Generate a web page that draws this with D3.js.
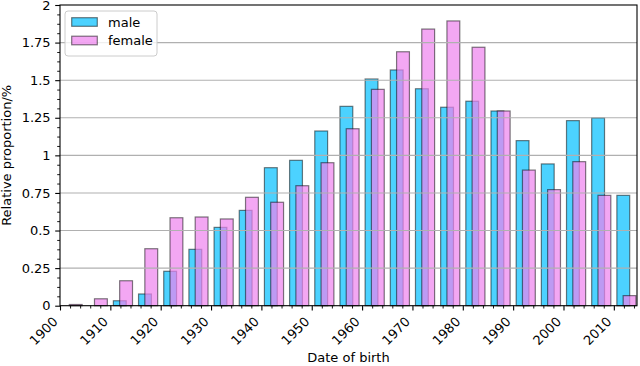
<!DOCTYPE html>
<html>
<head>
<meta charset="utf-8">
<script src="https://cdn.jsdelivr.net/npm/d3@7"></script>
<style>
  html, body { margin: 0; padding: 0; background: #fff; }
  svg { display: block; font-family: "DejaVu Sans", sans-serif; }
</style>
</head>
<body>
<svg id="chart" width="640" height="366"></svg>
<script>
// ---- data ----
const binStarts = [1900,1905,1910,1915,1920,1925,1930,1935,1940,1945,1950,1955,1960,1965,1970,1975,1980,1985,1990,1995,2000,2005,2010];
const maleValues = [0, 0, 0.033, 0.078, 0.229, 0.375, 0.521, 0.634, 0.918, 0.967, 1.162, 1.326, 1.508, 1.568, 1.443, 1.320, 1.360, 1.295, 1.098, 0.943, 1.231, 1.249, 0.734];
const femaleValues = [0.008, 0.046, 0.166, 0.379, 0.585, 0.590, 0.577, 0.721, 0.688, 0.798, 0.951, 1.177, 1.439, 1.689, 1.840, 1.894, 1.719, 1.295, 0.902, 0.772, 0.958, 0.734, 0.067];
const seriesNames = ["male", "female"];
const xTickValues = [1900,1910,1920,1930,1940,1950,1960,1970,1980,1990,2000,2010];
const yTickValues = [0,0.25,0.5,0.75,1,1.25,1.5,1.75,2];
const yTickLabels = ["0","0.25","0.5","0.75","1","1.25","1.5","1.75","2"];

(function () {
const mL = 60, mR = 637, mT = 5, mB = 305.7;
const svg = d3.select("#chart");
const x = d3.scaleLinear().domain([1900, 2014.6]).range([mL, mR]);
const y = d3.scaleLinear().domain([0, 2]).range([mB, mT]);

const colors = { male: "#00bfff", female: "#ee82ee" };
const offsets = { male: 0.6, female: 1.85 };
const barW = 2.55;

const series = [
  { name: seriesNames[0], values: maleValues },
  { name: seriesNames[1], values: femaleValues }
];

// bars
series.forEach(s => {
  svg.append("g").selectAll("rect")
    .data(binStarts.map((b, i) => ({ b, v: s.values[i] })))
    .join("rect")
    .attr("x", d => x(d.b + offsets[s.name]))
    .attr("width", d => x(d.b + offsets[s.name] + barW) - x(d.b + offsets[s.name]))
    .attr("y", d => y(d.v))
    .attr("height", d => y(0) - y(d.v))
    .attr("fill", colors[s.name])
    .attr("fill-opacity", 0.7)
    .attr("stroke", "#000")
    .attr("stroke-opacity", 0.5)
    .attr("stroke-width", 1.2);
});

// grid (above bars, as in the reference)
svg.append("g").selectAll("line")
  .data(yTickValues.filter(v => v > 0 && v < 2))
  .join("line")
  .attr("x1", mL).attr("x2", mR)
  .attr("y1", d => y(d)).attr("y2", d => y(d))
  .attr("stroke", "#b0b0b0").attr("stroke-width", 1.1);

// frame
svg.append("rect")
  .attr("x", mL).attr("y", mT)
  .attr("width", mR - mL).attr("height", mB - mT)
  .attr("fill", "none").attr("stroke", "#000").attr("stroke-width", 1.1);

// y axis
const yAxis = d3.axisLeft(y).tickValues(yTickValues)
  .tickFormat((d, i) => yTickLabels[i]).tickSize(4.8).tickPadding(4.6);
const gy = svg.append("g").attr("transform", `translate(${mL},0)`).call(yAxis);
gy.select(".domain").remove();
gy.selectAll("text").attr("font-size", 13).attr("font-family", "DejaVu Sans").attr("fill", "#000");
gy.selectAll("line").attr("stroke", "#000").attr("stroke-width", 1.1);
const yMinor = d3.range(0, 2.0001, 0.0625).filter(v => Math.abs(v / 0.25 - Math.round(v / 0.25)) > 1e-6);
svg.append("g").attr("transform", `translate(${mL},0)`)
  .call(d3.axisLeft(y).tickValues(yMinor).tickSize(2.8).tickFormat(""))
  .call(g => g.select(".domain").remove())
  .selectAll("line").attr("stroke", "#000").attr("stroke-width", 0.9);

// x axis
const xAxis = d3.axisBottom(x).tickValues(xTickValues).tickSize(4.8).tickFormat("");
const gx = svg.append("g").attr("transform", `translate(0,${mB})`).call(xAxis);
gx.select(".domain").remove();
gx.selectAll("line").attr("stroke", "#000").attr("stroke-width", 1.1);
const xMinor = d3.range(1902, 2015, 2).filter(v => v % 10 !== 0);
svg.append("g").attr("transform", `translate(0,${mB})`)
  .call(d3.axisBottom(x).tickValues(xMinor).tickSize(2.8).tickFormat(""))
  .call(g => g.select(".domain").remove())
  .selectAll("line").attr("stroke", "#000").attr("stroke-width", 0.9);

svg.append("g").selectAll("text")
  .data(xTickValues)
  .join("text")
  .attr("transform", d => `translate(${x(d) - 1.5},${322.5}) rotate(-45)`)
  .attr("text-anchor", "end")
  .attr("font-size", 13)
  .attr("fill", "#000")
  .text(d => String(d));

// axis titles
svg.append("text")
  .attr("x", (mL + mR) / 2).attr("y", 362)
  .attr("text-anchor", "middle").attr("font-size", 13).attr("fill", "#000")
  .text("Date of birth");
svg.append("text")
  .attr("transform", `translate(11,${(mT + mB) / 2}) rotate(-90)`)
  .attr("text-anchor", "middle").attr("font-size", 13).attr("fill", "#000")
  .text("Relative proportion/%");

// legend
const lg = svg.append("g");
lg.append("rect")
  .attr("x", 65).attr("y", 11).attr("width", 92).attr("height", 45)
  .attr("rx", 3).attr("fill", "#fff").attr("fill-opacity", 0.8)
  .attr("stroke", "#cccccc").attr("stroke-width", 1);
series.forEach((s, i) => {
  const cy = 22 + i * 18.5;
  lg.append("rect")
    .attr("x", 71.7).attr("y", cy - 4.3).attr("width", 25.6).attr("height", 8.6)
    .attr("fill", colors[s.name]).attr("fill-opacity", 0.7)
    .attr("stroke", "#000").attr("stroke-opacity", 0.5).attr("stroke-width", 1.2);
  lg.append("text")
    .attr("x", 108).attr("y", cy + 4.6)
    .attr("font-size", 13).attr("fill", "#000")
    .text(s.name);
});
})();
</script>
</body>
</html>
